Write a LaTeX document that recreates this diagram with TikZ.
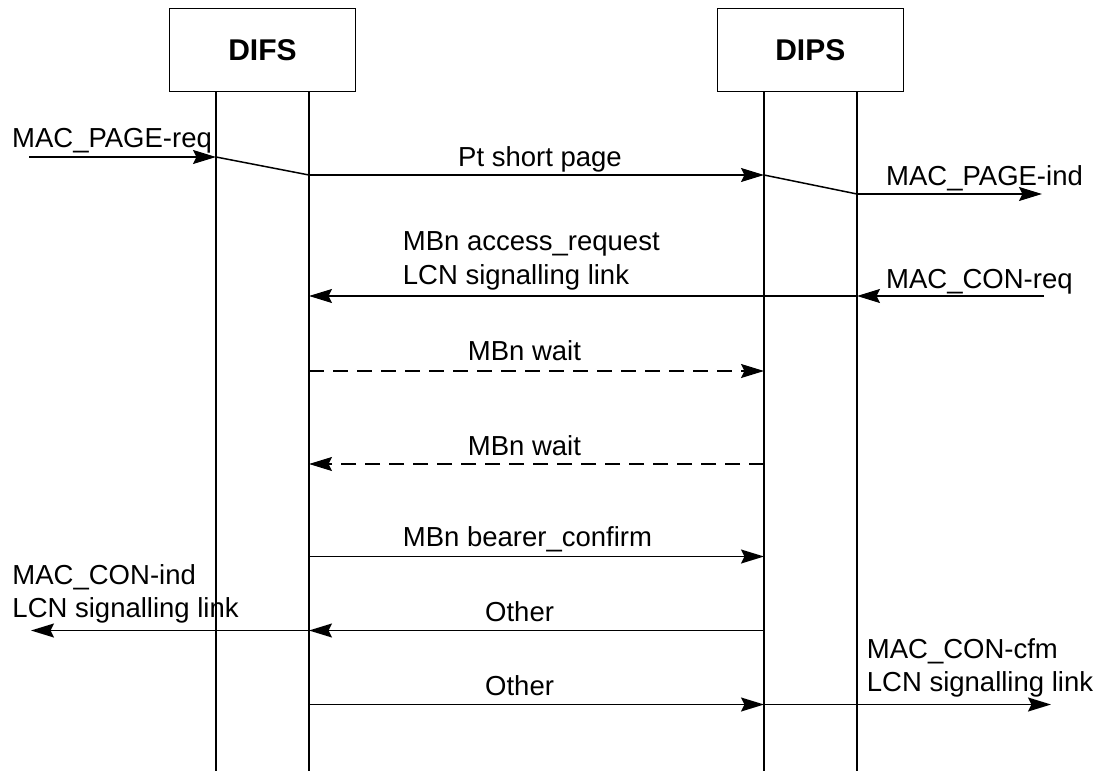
\documentclass[tikz,border=0pt]{standalone}
\usepackage{fontspec}
\setmainfont{Liberation Sans}
\usetikzlibrary{arrows.meta}

\begin{document}
\begin{tikzpicture}[x=1pt,y=-1pt,
    every node/.style={font=\fontsize{27.5}{33.5}\selectfont},
    entity/.style={draw,line width=1.3pt,minimum width=186pt,minimum height=83pt,
        font=\fontsize{30}{36}\selectfont\bfseries},
    wire/.style={line width=1.5pt},
    msg/.style={wire,-{Stealth[length=23pt,width=14pt,inset=3.5pt]}},
    lbl/.style={anchor=base west,inner sep=0pt,align=left}]
            \useasboundingbox (0,0) rectangle (1097,771);

            \node[entity] (difs) at (262.5,49.7) {DIFS};
            \node[entity] (dips) at (810.3,49.7) {DIPS};

            % lifelines
            \coordinate (fa) at (216,91);   \coordinate (fa') at (216,771);
            \coordinate (fb) at (309,91);   \coordinate (fb') at (309,771);
            \coordinate (pa) at (764,91);   \coordinate (pa') at (764,771);
            \coordinate (pb) at (857,91);   \coordinate (pb') at (857,771);
            \draw[wire] (fa)--(fa') (fb)--(fb') (pa)--(pa') (pb)--(pb');

            % page
            \coordinate (in1) at (29,157);
            \coordinate (fa1) at (216,157);
            \coordinate (fb1) at (309,175);
            \coordinate (pa1) at (764,175);
            \coordinate (pb1) at (857,194);
            \coordinate (out1) at (1042,194);
            \draw[msg] (in1)--(fa1);
            \draw[wire] (fa1)--(fb1);
            \draw[msg] (fb1)--(pa1);
            \draw[wire] (pa1)--(pb1);
            \draw[msg] (pb1)--(out1);
            \node[lbl] (pagereq) at (12,147.7) {MAC\_PAGE-req};
            \node[lbl] (short) at (458,166.7) {Pt short page};
            \node[lbl] (pageind) at (886,185) {MAC\_PAGE-ind};

            % access request
            \coordinate (in2) at (1044,296);
            \coordinate (pb2) at (857,296);
            \coordinate (fb2) at (309,296);
            \draw[msg] (in2)--(pb2);
            \draw[msg] (pb2)--(fb2);
            \node[lbl] (conreq) at (886,288) {MAC\_CON-req};
            \node[lbl] (access) at (402.7,284) {MBn access\_request\\LCN signalling link};

            % wait
            \coordinate (fb3) at (309,371);   \coordinate (pa3) at (764,371);
            \coordinate (fb4) at (309,464);   \coordinate (pa4) at (764,464);
            \draw[msg,dash pattern=on 15pt off 9pt] (fb3)--(pa3);
            \draw[msg,dash pattern=on 15pt off 9pt] (pa4)--(fb4);
            \node[lbl] (wait1) at (467.7,360.7) {MBn wait};
            \node[lbl] (wait2) at (467.7,455) {MBn wait};

            % confirm
            \coordinate (fb5) at (309,556.5); \coordinate (pa5) at (764,556.5);
            \draw[msg] (fb5)--(pa5);
            \node[lbl] (confirm) at (402.7,546.7) {MBn bearer\_confirm};

            \coordinate (pa6) at (764,630.5); \coordinate (fb6) at (309,630.5);
            \coordinate (out2) at (31,630.5);
            \draw[msg] (pa6)--(fb6);
            \draw[msg] (fb6)--(out2);
            \node[lbl] (other1) at (485,621.7) {Other};
            \node[lbl] (conind) at (12.3,617.7) {MAC\_CON-ind\\LCN signalling link};

            \coordinate (fb7) at (309,704.5); \coordinate (pa7) at (764,704.5);
            \coordinate (out3) at (1051,704.5);
            \draw[msg] (fb7)--(pa7);
            \draw[msg] (pa7)--(out3);
            \node[lbl] (other2) at (485,695) {Other};
            \node[lbl] (concfm) at (866.7,691.7) {MAC\_CON-cfm\\LCN signalling link};

        \end{tikzpicture}
\end{document}
